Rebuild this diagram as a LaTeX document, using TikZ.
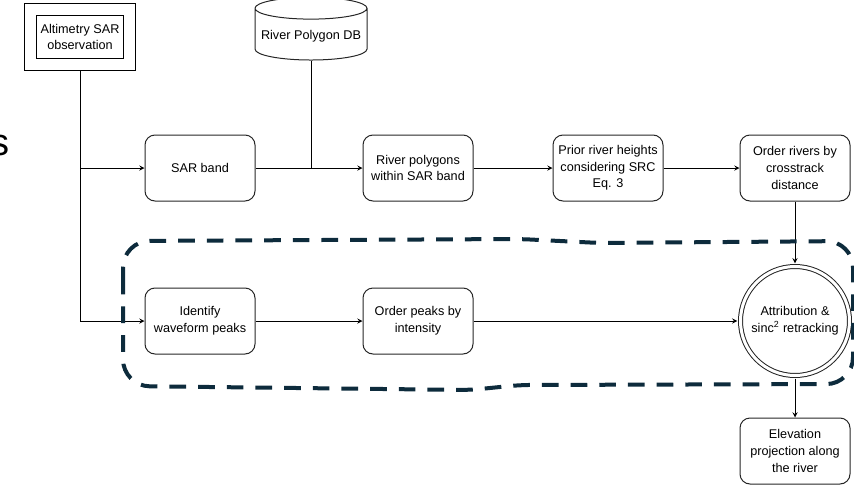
\documentclass[tikz,border=0pt]{standalone}
\usepackage{fontspec}
\setmainfont{Liberation Sans}
\usetikzlibrary{positioning,shapes.geometric}
\definecolor{blobcol}{HTML}{0D2B3C}
\tikzset{
box/.style={draw=black!85, rounded corners=7.5pt, minimum width=82.5pt, minimum height=49.5pt, align=center, inner sep=1pt},
blob/.style={draw=blobcol, line width=3pt, dash pattern=on 12.5pt off 9pt},
}
\begin{document}
\begin{tikzpicture}[
x=0.75pt, y=-0.75pt,
node distance = 114.75pt,
line width=0.75pt,
>=stealth,
font=\fontsize{9.5}{12.5}\selectfont,
]
\useasboundingbox (0,0) rectangle (854,486);
\node [anchor=base west, inner sep=0, font=\fontsize{28.5}{30}\selectfont] (n0) at (-9.5,155) {s};
\node [draw, double, double distance=7.9pt, minimum width=73.9pt, minimum height=41.6pt, align=center, inner sep=1pt] (n1) at (80,37) {Altimetry SAR\\observation};
\node [cylinder, shape border rotate=90, draw=black!85, aspect=0.2, minimum width=84pt, minimum height=47pt] (n2) at (311,36.5) {River Polygon DB};
\node [box] (n3) at (200,168) {SAR band};
\node [box] (n4) at (418,168) {River polygons\\within SAR band};
\node [box] (n5) at (608,168) {Prior river heights\\considering SRC\\Eq. 3};
\node [box] (n6) at (795,168) {Order rivers by\\crosstrack\\distance};
\node [box, below of = n3] (n7) {Identify\\waveform peaks};
\node [box, below of = n4] (n8) {Order peaks by\\intensity};
\node [below of = n6, circle, draw=black!85, double, double distance=2.25pt, minimum size=81.75pt, inner sep=0pt, align=center] (n9) {Attribution \&\\sinc\textsuperscript{2} retracking};
\node [box, below of = n9, node distance = 97.5pt] (n10) {Elevation\\projection along\\the river};
\path[->,draw=black, shorten < = 4.3pt] (n1.south) |- (n7) ;
\path[->,draw=black] (n1.south |- n3) -- (n3) ;
\path[draw=black] (n2.south) -- (n2.south |- n3) ;
\path[->,draw=black] (n3) -- (n4) ;
\path[->,draw=black] (n4) -- (n5) ;
\path[->,draw=black] (n5) -- (n6) ;
\path[->,draw=black, shorten > = 2pt] (n6) -- (n9) ;
\path[->,draw=black] (n7) -- (n8) ;
\path[->,draw=black, shorten > = 2pt] (n8) -- (n9) ;
\path[->,draw=black, shorten < = 2pt] (n9) -- (n10) ;

\draw[blob] (123,310) [rounded corners=20pt] -- (123,241) [rounded corners=8pt] -- (520,239) -- (600,243) [rounded corners=20pt] -- (853,241) -- (853,384) [rounded corners=8pt] -- (520,385) -- (470,390) [rounded corners=20pt] -- (123,386) -- cycle;
\end{tikzpicture}
\end{document}
